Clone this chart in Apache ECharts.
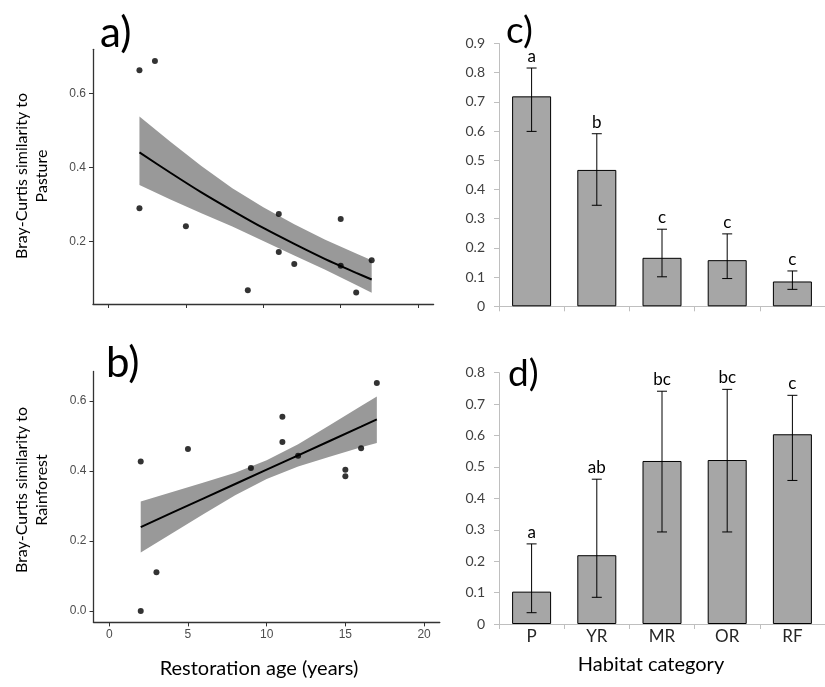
<!DOCTYPE html>
<html><head><meta charset="utf-8">
<script src="https://cdn.jsdelivr.net/npm/echarts@6/dist/echarts.min.js"></script>
<style>html,body{margin:0;padding:0;background:#fff}#c{width:825px;height:687px}</style>
</head><body><div id="c"></div>
<script>
// ---- data: panel a (similarity to pasture vs restoration age)
const ageA = [2, 2, 3, 5, 9, 11, 11, 12, 15, 15, 16, 17];
const simPasture = [0.663, 0.290, 0.688, 0.242, 0.069, 0.275, 0.172, 0.140, 0.261, 0.135, 0.063, 0.150];
// ---- panel b (similarity to rainforest vs restoration age)
const ageB = [2, 2, 3, 5, 9, 11, 11, 12, 15, 15, 16, 17];
const simRainforest = [0.427, 0.000, 0.111, 0.463, 0.409, 0.555, 0.483, 0.444, 0.404, 0.385, 0.465, 0.652];
// ---- fitted curves with confidence bands
const fitX = [2, 4, 6, 8, 10, 12, 14, 16, 17];
const fitA = [0.441, 0.386, 0.333, 0.284, 0.237, 0.194, 0.153, 0.116, 0.098];
const upperA = [0.538, 0.470, 0.404, 0.344, 0.293, 0.247, 0.205, 0.168, 0.150];
const lowerA = [0.353, 0.314, 0.277, 0.241, 0.202, 0.163, 0.124, 0.083, 0.062];
const fitB = [0.240, 0.281, 0.322, 0.363, 0.404, 0.445, 0.486, 0.527, 0.548];
const upperB = [0.313, 0.340, 0.367, 0.395, 0.431, 0.477, 0.531, 0.586, 0.613];
const lowerB = [0.167, 0.222, 0.277, 0.331, 0.377, 0.413, 0.441, 0.468, 0.480];
// ---- tick values
const ageTicks = [0, 5, 10, 15, 20];
const ticksA = [0.2, 0.4, 0.6];
const ticksB = [0.0, 0.2, 0.4, 0.6];
// ---- panels c and d (habitat categories)
const cats = ['P', 'YR', 'MR', 'OR', 'RF'];
const pastureMean = [0.719, 0.467, 0.166, 0.158, 0.085];
const pastureLow = [0.599, 0.346, 0.101, 0.095, 0.058];
const pastureHigh = [0.816, 0.591, 0.264, 0.248, 0.121];
const pastureLetters = ['a', 'b', 'c', 'c', 'c'];
const rainMean = [0.103, 0.219, 0.519, 0.522, 0.604];
const rainLow = [0.036, 0.085, 0.293, 0.293, 0.457];
const rainHigh = [0.255, 0.461, 0.741, 0.747, 0.728];
const rainLetters = ['a', 'ab', 'bc', 'bc', 'c'];

const chart = echarts.init(document.getElementById('c'), null, {renderer: 'canvas'});
const GG = '#333333';
const XL = '#bfbfbf';
const sansGG = 'Liberation Sans, Arial, sans-serif';
const sansXL = 'Lato, Carlito, Calibri, sans-serif';

function ggX(gi, showLabels) {
  return {
    type: 'value', gridIndex: gi, min: -1, max: 21,
    axisLine: {show: true, onZero: false, lineStyle: {color: GG, width: 1.3}},
    axisTick: {show: true, customValues: ageTicks, length: 4, lineStyle: {color: GG, width: 1}},
    axisLabel: {show: showLabels, customValues: ageTicks, margin: 6, fontSize: 12, color: '#4d4d4d', fontFamily: sansGG},
    splitLine: {show: false}
  };
}
function ggY(gi, mn, mx, ticks) {
  return {
    type: 'value', gridIndex: gi, min: mn, max: mx,
    axisLine: {show: true, onZero: false, lineStyle: {color: GG, width: 1.3}},
    axisTick: {show: true, customValues: ticks, length: 4, lineStyle: {color: GG, width: 1}},
    axisLabel: {show: true, customValues: ticks, margin: 7, fontSize: 12, color: '#4d4d4d', fontFamily: sansGG,
      formatter: v => Number(v).toFixed(1)},
    splitLine: {show: false}
  };
}
function xlX(gi, showLabels) {
  return {
    type: 'category', gridIndex: gi, data: cats,
    axisLine: {show: true, onZero: false, lineStyle: {color: XL, width: 1}},
    axisTick: {show: true, length: 5, lineStyle: {color: XL}},
    axisLabel: {show: showLabels, margin: 4, fontSize: 17, color: '#262626', fontFamily: sansXL},
    splitLine: {show: false}
  };
}
function xlY(gi, mx) {
  return {
    type: 'value', gridIndex: gi, min: 0, max: mx, interval: 0.1,
    axisLine: {show: true, onZero: false, lineStyle: {color: XL, width: 1}},
    axisTick: {show: true, length: 5, lineStyle: {color: XL}},
    axisLabel: {margin: 14, fontSize: 14, color: '#404040', fontFamily: sansXL,
      formatter: v => (Math.abs(v) < 1e-9 ? '0' : Number(v).toFixed(1))},
    splitLine: {show: false}
  };
}
function bandSeries(xi, up, lo) {
  return {
    type: 'custom', xAxisIndex: xi, yAxisIndex: xi, z: 1, silent: true,
    data: [[fitX[0], up[0]]],
    renderItem: function (params, api) {
      const pts = [];
      for (let i = 0; i < fitX.length; i++) pts.push(api.coord([fitX[i], up[i]]));
      for (let i = fitX.length - 1; i >= 0; i--) pts.push(api.coord([fitX[i], lo[i]]));
      return {type: 'polygon', shape: {points: pts}, style: {fill: '#999999', stroke: null}};
    }
  };
}
function errSeries(xi, mean, lo, hi, letters) {
  return {
    type: 'custom', xAxisIndex: xi, yAxisIndex: xi, z: 5, silent: true,
    data: mean.map((m, i) => [i, lo[i], hi[i]]),
    renderItem: function (params, api) {
      const i = api.value(0);
      const pH = api.coord([i, api.value(2)]);
      const pL = api.coord([i, api.value(1)]);
      const w = 5;
      const st = {stroke: '#000', lineWidth: 1};
      return {type: 'group', children: [
        {type: 'line', shape: {x1: pH[0], y1: pH[1], x2: pL[0], y2: pL[1]}, style: st},
        {type: 'line', shape: {x1: pH[0] - w, y1: pH[1], x2: pH[0] + w, y2: pH[1]}, style: st},
        {type: 'line', shape: {x1: pL[0] - w, y1: pL[1], x2: pL[0] + w, y2: pL[1]}, style: st},
        {type: 'text', x: pH[0], y: pH[1] - 3, style: {text: letters[i], align: 'center', verticalAlign: 'bottom',
          fontSize: 17, fontFamily: sansXL, fill: '#000'}}
      ]};
    }
  };
}
function gtext(text, x, y, size, rot, align) {
  return {type: 'text', x: x, y: y, rotation: rot || 0, silent: true,
    style: {text: text, align: align || 'center', verticalAlign: 'middle', fontSize: size, fontFamily: sansXL, fill: '#000'}};
}

const option = {
  backgroundColor: '#fff',
  animation: false,
  grid: [
    {left: 93, right: 391.4, top: 49.3, bottom: 383},
    {left: 93.5, right: 385.2, top: 371.5, bottom: 64.6},
    {left: 499, right: -7.5, top: 43.5, bottom: 380.7},
    {left: 499, right: -8.5, top: 372.7, bottom: 63}
  ],
  xAxis: [ggX(0, false), ggX(1, true), xlX(2, false), xlX(3, true)],
  yAxis: [ggY(0, 0.0318, 0.7193, ticksA), ggY(1, -0.0326, 0.6846, ticksB), xlY(2, 0.9), xlY(3, 0.8)],
  series: [
    bandSeries(0, upperA, lowerA),
    {type: 'line', xAxisIndex: 0, yAxisIndex: 0, z: 3, smooth: 0.3, symbol: 'none',
      lineStyle: {color: '#000', width: 2}, data: fitX.map((x, i) => [x, fitA[i]])},
    {type: 'scatter', xAxisIndex: 0, yAxisIndex: 0, z: 4, symbolSize: 6, itemStyle: {color: '#000'},
      data: ageA.map((x, i) => [x, simPasture[i]])},
    bandSeries(1, upperB, lowerB),
    {type: 'line', xAxisIndex: 1, yAxisIndex: 1, z: 3, symbol: 'none',
      lineStyle: {color: '#000', width: 2}, data: fitX.map((x, i) => [x, fitB[i]])},
    {type: 'scatter', xAxisIndex: 1, yAxisIndex: 1, z: 4, symbolSize: 6, itemStyle: {color: '#000'},
      data: ageB.map((x, i) => [x, simRainforest[i]])},
    {type: 'bar', xAxisIndex: 2, yAxisIndex: 2, barWidth: 39, z: 2,
      itemStyle: {color: '#a6a6a6', borderColor: '#000', borderWidth: 1}, data: pastureMean},
    errSeries(2, pastureMean, pastureLow, pastureHigh, pastureLetters),
    {type: 'bar', xAxisIndex: 3, yAxisIndex: 3, barWidth: 39, z: 2,
      itemStyle: {color: '#a6a6a6', borderColor: '#000', borderWidth: 1}, data: rainMean},
    errSeries(3, rainMean, rainLow, rainHigh, rainLetters)
  ],
  graphic: [
    gtext('a)', 100, 33, 42, 0, 'left'),
    gtext('b)', 106, 363, 42, 0, 'left'),
    gtext('c)', 506, 31, 37, 0, 'left'),
    gtext('d)', 508, 374, 37, 0, 'left'),
    gtext('Bray-Curtis similarity to', 22, 176, 16, Math.PI / 2),
    gtext('Pasture', 42, 176, 16, Math.PI / 2),
    gtext('Bray-Curtis similarity to', 22, 490, 16, Math.PI / 2),
    gtext('Rainforest', 42, 490, 16, Math.PI / 2),
    gtext('Restoration age (years)', 259, 669, 20, 0),
    gtext('Habitat category', 651, 665, 20, 0)
  ]
};
chart.setOption(option);
</script>
</body></html>
